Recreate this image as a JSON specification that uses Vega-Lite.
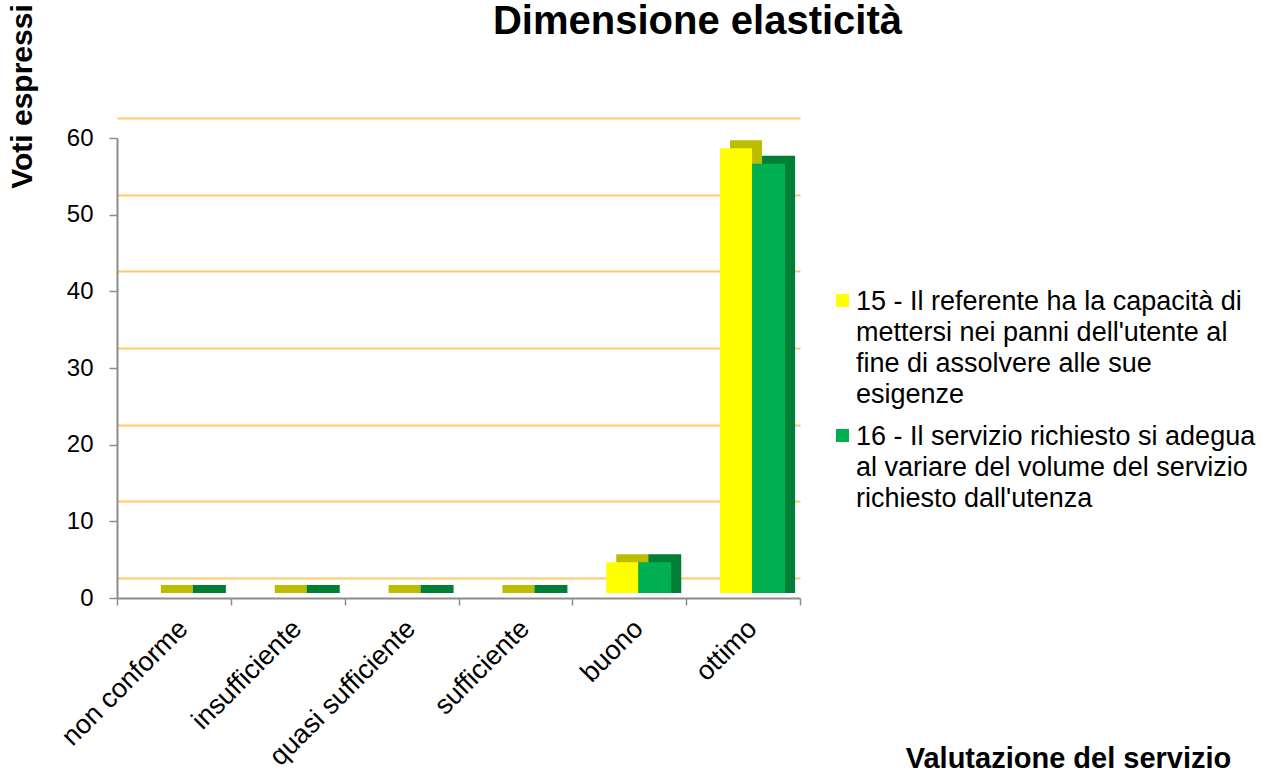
{
  "$schema": "https://vega.github.io/schema/vega-lite/v6.json",
  "width": 683,
  "height": 460,
  "autosize": {"type": "none"},
  "padding": {"left": 117, "top": 138, "right": 465, "bottom": 176},
  "background": "white",
  "data": {
    "values": [
      {"categoria": "non conforme", "serie": "15 - Il referente ha la capacità di mettersi nei panni dell'utente al fine di assolvere alle sue esigenze", "voti": 0},
      {"categoria": "non conforme", "serie": "16 - Il servizio richiesto si adegua al variare del volume del servizio richiesto dall'utenza", "voti": 0},
      {"categoria": "insufficiente", "serie": "15 - Il referente ha la capacità di mettersi nei panni dell'utente al fine di assolvere alle sue esigenze", "voti": 0},
      {"categoria": "insufficiente", "serie": "16 - Il servizio richiesto si adegua al variare del volume del servizio richiesto dall'utenza", "voti": 0},
      {"categoria": "quasi sufficiente", "serie": "15 - Il referente ha la capacità di mettersi nei panni dell'utente al fine di assolvere alle sue esigenze", "voti": 0},
      {"categoria": "quasi sufficiente", "serie": "16 - Il servizio richiesto si adegua al variare del volume del servizio richiesto dall'utenza", "voti": 0},
      {"categoria": "sufficiente", "serie": "15 - Il referente ha la capacità di mettersi nei panni dell'utente al fine di assolvere alle sue esigenze", "voti": 0},
      {"categoria": "sufficiente", "serie": "16 - Il servizio richiesto si adegua al variare del volume del servizio richiesto dall'utenza", "voti": 0},
      {"categoria": "buono", "serie": "15 - Il referente ha la capacità di mettersi nei panni dell'utente al fine di assolvere alle sue esigenze", "voti": 4},
      {"categoria": "buono", "serie": "16 - Il servizio richiesto si adegua al variare del volume del servizio richiesto dall'utenza", "voti": 4},
      {"categoria": "ottimo", "serie": "15 - Il referente ha la capacità di mettersi nei panni dell'utente al fine di assolvere alle sue esigenze", "voti": 58},
      {"categoria": "ottimo", "serie": "16 - Il servizio richiesto si adegua al variare del volume del servizio richiesto dall'utenza", "voti": 56}
    ]
  },
  "encoding": {
    "x": {
      "field": "categoria",
      "type": "nominal",
      "sort": ["non conforme", "insufficiente", "quasi sufficiente", "sufficiente", "buono", "ottimo"],
      "scale": {"paddingInner": 0, "paddingOuter": 0},
      "axis": {
        "title": "Valutazione del servizio",
        "titleFont": "Liberation Sans",
        "titleFontSize": 29,
        "titleFontWeight": "bold",
        "titleColor": "#000000",
        "titleX": 951,
        "titleY": 160,
        "titleAlign": "center",
        "titleBaseline": "middle",
        "labelAngle": -45,
        "labelAlign": "right",
        "labelBaseline": "top",
        "labelFont": "Liberation Sans",
        "labelFontSize": 27,
        "labelColor": "#000000",
        "labelPadding": 10,
        "labelLimit": 400,
        "domainColor": "#8c8c8c",
        "domainWidth": 2,
        "tickColor": "#8c8c8c",
        "tickWidth": 1.5,
        "tickSize": 7,
        "tickBand": "extent",
        "grid": false
      }
    }
  },
  "layer": [
    {
      "mark": {"type": "bar", "opacity": 0},
      "encoding": {
        "y": {
          "field": "voti",
          "type": "quantitative",
          "scale": {"domain": [0, 60], "range": [440, -20], "nice": false},
          "axis": {
            "orient": "right",
            "title": "Dimensione elasticità",
            "titleFont": "Liberation Sans",
            "titleFontSize": 40,
            "titleFontWeight": "bold",
            "titleColor": "#000000",
            "titleAngle": 0,
            "titleAlign": "center",
            "titleBaseline": "alphabetic",
            "titleX": -103,
            "titleY": -105,
            "values": [0, 10, 20, 30, 40, 50, 60],
            "labels": false,
            "ticks": false,
            "domain": false,
            "grid": true,
            "gridColor": "#FFC966",
            "gridWidth": 2
          }
        }
      }
    },
    {
      "encoding": {
        "y": {
          "field": "voti",
          "type": "quantitative",
          "scale": {"domain": [0, 60]},
          "axis": {
            "orient": "left",
            "title": "Voti espressi",
            "titleFont": "Liberation Sans",
            "titleFontSize": 30,
            "titleFontWeight": "bold",
            "titleColor": "#000000",
            "titleAngle": -90,
            "titleAlign": "center",
            "titleBaseline": "middle",
            "titleX": -95,
            "titleY": -42,
            "values": [0, 10, 20, 30, 40, 50, 60],
            "labelFont": "Liberation Sans",
            "labelFontSize": 24,
            "labelColor": "#000000",
            "labelPadding": 16,
            "domainColor": "#8c8c8c",
            "domainWidth": 2,
            "tickColor": "#8c8c8c",
            "tickWidth": 1.5,
            "tickSize": 8,
            "grid": false
          }
        }
      },
      "layer": [
        {
          "transform": [{"filter": "indexof(datum.serie, '15') == 0"}],
          "mark": {"type": "bar", "width": 32, "xOffset": 3, "yOffset": -13, "y2Offset": -5, "color": "#BDBD00"},
          "encoding": {"y2": {"datum": 0}}
        },
        {
          "transform": [{"filter": "indexof(datum.serie, '15') == 0"}],
          "mark": {"type": "bar", "width": 32, "xOffset": -7, "yOffset": -5, "y2Offset": -5},
          "encoding": {
            "color": {
              "field": "serie",
              "type": "nominal",
              "scale": {
                "domain": [
                  "15 - Il referente ha la capacità di mettersi nei panni dell'utente al fine di assolvere alle sue esigenze",
                  "16 - Il servizio richiesto si adegua al variare del volume del servizio richiesto dall'utenza"
                ],
                "range": ["#FFFF00", "#00B050"]
              },
              "legend": {
                "title": null,
                "orient": "none",
                "legendX": 712,
                "legendY": 149,
                "symbolType": "square",
                "symbolSize": 169,
                "symbolStrokeWidth": 0,
                "labelFont": "Liberation Sans",
                "labelFontSize": 27,
                "labelColor": "#000000",
                "labelLimit": 500,
                "labelBaseline": "middle",
                "labelOffset": 0,
                "rowPadding": 14,
                "labelExpr": "datum.label == '15 - Il referente ha la capacità di mettersi nei panni dell\\'utente al fine di assolvere alle sue esigenze' ? ['15 - Il referente ha la capacità di', 'mettersi nei panni dell\\'utente al', 'fine di assolvere alle sue', 'esigenze'] : ['16 - Il servizio richiesto si adegua', 'al variare del volume del servizio', 'richiesto dall\\'utenza']",
                "encode": {
                  "labels": {"update": {"lineHeight": {"value": 31}, "baseline": {"value": "top"}, "dy": {"value": -12}}}
                }
              }
            }
          }
        },
        {
          "transform": [{"filter": "indexof(datum.serie, '16') == 0"}],
          "mark": {"type": "bar", "width": 33, "xOffset": 35.5, "yOffset": -13, "y2Offset": -5, "color": "#007F37"},
          "encoding": {"y2": {"datum": 0}}
        },
        {
          "transform": [{"filter": "indexof(datum.serie, '16') == 0"}],
          "mark": {"type": "bar", "width": 33, "xOffset": 25.5, "yOffset": -5, "y2Offset": -5},
          "encoding": {
            "color": {"field": "serie", "type": "nominal"}
          }
        }
      ]
    }
  ],
  "resolve": {"scale": {"y": "independent"}, "axis": {"y": "independent"}},
  "config": {
    "view": {"stroke": null}
  }
}
